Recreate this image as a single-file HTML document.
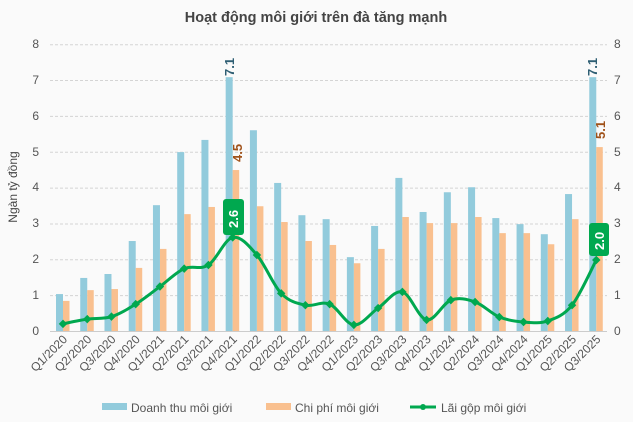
<!DOCTYPE html>
<html><head><meta charset="utf-8"><style>
html,body{margin:0;padding:0;background:#fafafa;}
svg{display:block;font-family:"Liberation Sans",Arial,sans-serif;}
</style></head><body>
<svg id="s" width="633" height="422" viewBox="0 0 633 422" xmlns="http://www.w3.org/2000/svg">
<rect width="633" height="422" fill="#fafafa"/>
<text x="316" y="22" text-anchor="middle" font-size="14.5" font-weight="bold" fill="#444">Hoạt động môi giới trên đà tăng mạnh</text>
<g id="grid" stroke="#d4d4d4" stroke-dasharray="3,2" stroke-width="1"></g>
<line x1="50" y1="331.5" x2="607" y2="331.5" stroke="#ccc" stroke-width="1"/>
<g font-size="12" fill="#555" text-anchor="end">
<text x="39" y="335">0</text><text x="39" y="299">1</text><text x="39" y="263">2</text><text x="39" y="227">3</text><text x="39" y="191">4</text><text x="39" y="156">5</text><text x="39" y="120">6</text><text x="39" y="84">7</text><text x="39" y="48">8</text>
</g>
<g font-size="12" fill="#555" text-anchor="start">
<text x="614" y="335">0</text><text x="614" y="299">1</text><text x="614" y="263">2</text><text x="614" y="227">3</text><text x="614" y="191">4</text><text x="614" y="156">5</text><text x="614" y="120">6</text><text x="614" y="84">7</text><text x="614" y="48">8</text>
</g>
<text transform="translate(17,187) rotate(-90)" text-anchor="middle" font-size="12" fill="#444">Ngàn tỷ đồng</text>
<g id="bars"></g>
<path id="line" fill="none" stroke="#00a84f" stroke-width="3"/>
<g id="marks" fill="#00a84f"></g>
<g font-size="12" fill="#555" text-anchor="end">
<text transform="translate(68,340) rotate(-45)">Q1/2020</text>
<text transform="translate(92.2,340) rotate(-45)">Q2/2020</text>
<text transform="translate(116.5,340) rotate(-45)">Q3/2020</text>
<text transform="translate(140.7,340) rotate(-45)">Q4/2020</text>
<text transform="translate(165,340) rotate(-45)">Q1/2021</text>
<text transform="translate(189.2,340) rotate(-45)">Q2/2021</text>
<text transform="translate(213.4,340) rotate(-45)">Q3/2021</text>
<text transform="translate(237.7,340) rotate(-45)">Q4/2021</text>
<text transform="translate(261.9,340) rotate(-45)">Q1/2022</text>
<text transform="translate(286.2,340) rotate(-45)">Q2/2022</text>
<text transform="translate(310.4,340) rotate(-45)">Q3/2022</text>
<text transform="translate(334.6,340) rotate(-45)">Q4/2022</text>
<text transform="translate(358.9,340) rotate(-45)">Q1/2023</text>
<text transform="translate(383.1,340) rotate(-45)">Q2/2023</text>
<text transform="translate(407.4,340) rotate(-45)">Q3/2023</text>
<text transform="translate(431.6,340) rotate(-45)">Q4/2023</text>
<text transform="translate(455.8,340) rotate(-45)">Q1/2024</text>
<text transform="translate(480.1,340) rotate(-45)">Q2/2024</text>
<text transform="translate(504.3,340) rotate(-45)">Q3/2024</text>
<text transform="translate(528.6,340) rotate(-45)">Q4/2024</text>
<text transform="translate(552.8,340) rotate(-45)">Q1/2025</text>
<text transform="translate(577,340) rotate(-45)">Q2/2025</text>
<text transform="translate(601.3,340) rotate(-45)">Q3/2025</text>
</g>
<g font-size="13" font-weight="bold">
<text transform="translate(234,76) rotate(-90)" fill="#2e5e73">7.1</text>
<text transform="translate(242,162) rotate(-90)" fill="#a0521a">4.5</text>
<text transform="translate(597,76) rotate(-90)" fill="#2e5e73">7.1</text>
<text transform="translate(605,139) rotate(-90)" fill="#a0521a">5.1</text>
</g>
<rect x="223" y="199" width="21" height="36" rx="3" fill="#00a84f"/>
<text transform="translate(238,228) rotate(-90)" font-size="13" font-weight="bold" fill="#fff">2.6</text>
<rect x="589" y="223" width="20" height="33" rx="3" fill="#00a84f"/>
<text transform="translate(604,250) rotate(-90)" font-size="13" font-weight="bold" fill="#fff">2.0</text>
<g font-size="12" fill="#555">
<rect x="102" y="403" width="25" height="7" fill="#92cbdc"/><text x="131" y="412">Doanh thu môi giới</text>
<rect x="266" y="403" width="25" height="7" fill="#f9c08f"/><text x="295" y="412">Chi phí môi giới</text>
<line x1="410" y1="407" x2="436" y2="407" stroke="#00a84f" stroke-width="3"/><circle cx="423" cy="407" r="3" fill="#00a84f"/><text x="441" y="412">Lãi gộp môi giới</text>
</g>
</svg>
<script>
var B=[1.03,1.48,1.59,2.51,3.51,4.99,5.33,7.08,5.6,4.13,3.23,3.12,2.06,2.93,4.27,3.32,3.87,4.01,3.15,2.98,2.7,3.82,7.08];
var O=[0.84,1.14,1.17,1.76,2.29,3.26,3.46,4.49,3.48,3.04,2.51,2.4,1.89,2.29,3.18,3.01,3.01,3.18,2.73,2.73,2.42,3.12,5.13];
var L=[0.2,0.33,0.4,0.75,1.24,1.74,1.84,2.61,2.12,1.05,0.72,0.75,0.17,0.64,1.09,0.31,0.86,0.81,0.39,0.25,0.28,0.72,1.98];
var ns="http://www.w3.org/2000/svg",U=35.85,Y0=331;
function el(t,a,p){var e=document.createElementNS(ns,t);for(var k in a)e.setAttribute(k,a[k]);document.getElementById(p).appendChild(e);}
for(var g=1;g<=8;g++)el('line',{x1:50,x2:607,y1:Y0-g*U+.5,y2:Y0-g*U+.5},'grid');
var P=[];
for(var i=0;i<23;i++){var x=56+24.24*i;
el('rect',{x:x,y:Y0-B[i]*U,width:7,height:B[i]*U,fill:'#92cbdc'},'bars');
el('rect',{x:x+7,y:Y0-O[i]*U,width:6.5,height:O[i]*U,fill:'#f9c08f'},'bars');
P.push([x+7,Y0-L[i]*U]);}
var d='M'+P[0][0]+','+P[0][1];
for(var i=0;i<22;i++){var p0=P[Math.max(i-1,0)],p1=P[i],p2=P[i+1],p3=P[Math.min(i+2,22)];
d+=' C'+(p1[0]+(p2[0]-p0[0])/6)+','+(p1[1]+(p2[1]-p0[1])/6)+' '+(p2[0]-(p3[0]-p1[0])/6)+','+(p2[1]-(p3[1]-p1[1])/6)+' '+p2[0]+','+p2[1];}
document.getElementById('line').setAttribute('d',d);
P.forEach(function(p){el('rect',{x:p[0]-3,y:p[1]-3,width:6,height:6,transform:'rotate(45 '+p[0]+' '+p[1]+')'},'marks');});
</script>
</body></html>
